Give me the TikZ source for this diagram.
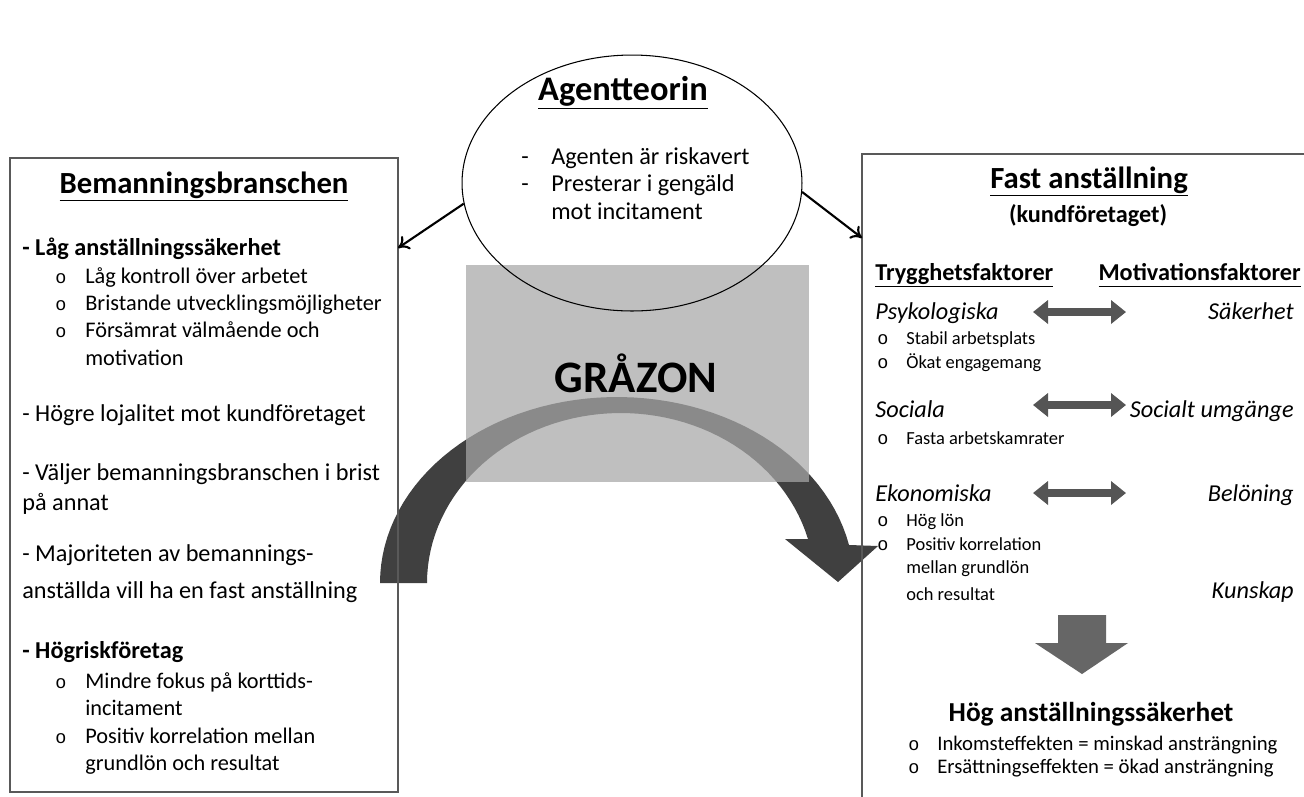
\documentclass[tikz,border=0pt]{standalone}
\usepackage{fontspec}
\setmainfont{Carlito}
\newfontfamily\bulletfont{Liberation Mono}
\usetikzlibrary{shapes.geometric,fit,arrows.meta}

\definecolor{arcgray}{HTML}{404040}
\definecolor{dblgray}{HTML}{555555}
\definecolor{downgray}{HTML}{666666}
\definecolor{zonegray}{RGB}{167,167,167}
\definecolor{framegray}{HTML}{595959}

\newcommand\fsbody{\fontsize{13.8}{16}\selectfont}
\newcommand\fssub{\fontsize{12.7}{15}\selectfont}
\newcommand\fssmall{\fontsize{10.5}{12}\selectfont}
\newcommand\fsitem{\fontsize{11.8}{14}\selectfont}
\newcommand\fshead{\fontsize{17.5}{20}\selectfont}
\newcommand\ul[1]{\underline{#1\vphantom{gy}}}

\tikzset{
  panel/.style={draw=framegray, line width=0.9pt, inner sep=0pt},
  txt/.style={anchor=base west, inner sep=0pt, font=\fsbody},
  blt/.style={anchor=base west, inner sep=0pt, font=\fssmall\bulletfont},
  dblarrow/.style={draw=dblgray, line width=4.5pt,
    {Triangle[length=0.3cm,width=0.46cm]}-{Triangle[length=0.3cm,width=0.46cm]}},
  conn/.style={-{To[length=6pt,width=9pt]}, line width=1.2pt},
}

\begin{document}
\begin{tikzpicture}[x=0.02cm,y=-0.02cm]

  \fill[white] (0,0) rectangle (1304,796);
  \useasboundingbox (0,0) rectangle (1304,796);

  % curved arrow through the grey zone
  \fill[arcgray] plot[domain=180:348.2,samples=60] ({617+237*cos(\x)},{583+186*sin(\x)})
    -- (878,546) -- (838,582) -- (785,539)
    -- plot[domain=345:180,samples=60] ({620.8+193.8*cos(\x)},{583+170*sin(\x)}) -- cycle;
  \fill[zonegray, fill opacity=.72] (466,265) rectangle (809,482);
  \node[font=\fontsize{25.6}{30}\selectfont\bfseries] (zon) at (636,373) {GRÅZON};

  \node[draw, ellipse, line width=0.6pt, inner sep=0pt,
        minimum width=6.8cm, minimum height=5.12cm] (agent) at (632,183) {};

  \node[panel, fit={(10,158) (398,792)}] (bem) {};
  \node[panel, fit={(862,154) (1330,830)}] (fast) {};

  \coordinate (bemin)  at (398,248);
  \coordinate (fastin) at (862,238);
  \draw[conn] (agent.187) -- (bemin);
  \draw[conn] (agent.357) -- (fastin);

  % agent theory
  \node[anchor=base, inner sep=0pt, font=\fontsize{19.6}{22}\selectfont\bfseries] (agt) at (623,100) {\ul{Agentteorin}};
  \begin{scope}[every node/.style={txt}]
    \node (ad1) at (521,164) {-};
    \node (a1)  at (551,164) {Agenten är riskavert};
    \node (ad2) at (521,191) {-};
    \node (a2)  at (551,191) {Presterar i gengäld};
    \node (a3)  at (551,219) {mot incitament};
  \end{scope}

  % staffing industry
  \node[anchor=base, inner sep=0pt, font=\fshead\bfseries] (bemt) at (204,193) {\ul{Bemanningsbranschen}};
  \begin{scope}[every node/.style={txt}]
    \node (l1) at (22,255) {\textbf{- Låg anställningssäkerhet}};
    \node[blt] (lo1) at (55,283) {o};
    \node[font=\fssub] (l2) at (85,283) {Låg kontroll över arbetet};
    \node[blt] (lo2) at (55,310) {o};
    \node[font=\fssub] (l3) at (85,310) {Bristande utvecklingsmöjligheter};
    \node[blt] (lo3) at (55,337) {o};
    \node[font=\fssub] (l4) at (85,337) {Försämrat välmående och};
    \node[font=\fssub] (l5) at (85,365) {motivation};
    \node (l6) at (22,421) {- Högre lojalitet mot kundföretaget};
    \node (l7) at (22,480) {- Väljer bemanningsbranschen i brist};
    \node (l8) at (22,510) {på annat};
    \node (l9) at (22,561) {- Majoriteten av bemannings-};
    \node (l10) at (22,598) {anställda vill ha en fast anställning};
    \node (l11) at (22,658) {\textbf{- Högriskföretag}};
    \node[blt] (lo4) at (55,688) {o};
    \node[font=\fssub] (l12) at (85,688) {Mindre fokus på korttids-};
    \node[font=\fssub] (l13) at (85,715) {incitament};
    \node[blt] (lo5) at (55,743) {o};
    \node[font=\fssub] (l14) at (85,743) {Positiv korrelation mellan};
    \node[font=\fssub] (l15) at (85,770) {grundlön och resultat};
  \end{scope}

  % permanent employment
  \node[anchor=base, inner sep=0pt, font=\fshead\bfseries] (fastt) at (1089,188) {\ul{Fast anställning}};
  \node[anchor=base, inner sep=0pt, font=\fsbody\bfseries] (kund) at (1088,222) {(kundföretaget)};
  \begin{scope}[every node/.style={txt}]
    \node[font=\fsbody\bfseries] (tryg) at (875,280) {\ul{Trygghetsfaktorer}};
    \node[font=\fsbody\bfseries, anchor=base east] (motiv) at (1301,280) {\ul{Motivationsfaktorer}};
    \node[font=\fsbody\itshape] (psy) at (875,319) {Psykologiska};
    \node[font=\fsbody\itshape, anchor=base east] (sak) at (1294,319) {Säkerhet};
    \node[font=\fsbody\itshape] (soc) at (875,417) {Sociala};
    \node[font=\fsbody\itshape, anchor=base east] (umg) at (1294,417) {Socialt umgänge};
    \node[font=\fsbody\itshape] (eko) at (875,501) {Ekonomiska};
    \node[font=\fsbody\itshape, anchor=base east] (bel) at (1294,501) {Belöning};
    \node[font=\fsbody\itshape, anchor=base east] (kun) at (1294,598) {Kunskap};
  \end{scope}
  \begin{scope}[every node/.style={txt, font=\fssmall}]
    \node[blt] (ro1) at (877,344) {o};
    \node (r1) at (906,344) {Stabil arbetsplats};
    \node[blt] (ro2) at (877,368) {o};
    \node (r2) at (906,368) {Ökat engagemang};
    \node[blt] (ro3) at (877,444) {o};
    \node (r3) at (906,444) {Fasta arbetskamrater};
    \node[blt] (ro4) at (877,526) {o};
    \node (r4) at (906,526) {Hög lön};
    \node[blt] (ro5) at (877,550) {o};
    \node (r5) at (906,550) {Positiv korrelation};
    \node (r6) at (906,573) {mellan grundlön};
    \node (r7) at (906,600) {och resultat};
  \end{scope}

  \foreach \y/\n in {312/psy,405/soc,493/eko} {
    \coordinate (\n a) at (1033,\y);
    \coordinate (\n b) at (1126,\y);
    \draw[dblarrow] (\n a) -- (\n b);
  }

  \fill[downgray] (1058,615) -- (1106,615) -- (1106,643) -- (1128,643)
    -- (1082,674) -- (1035,643) -- (1058,643) -- cycle;

  \node[anchor=base, inner sep=0pt, font=\fontsize{15.6}{18}\selectfont\bfseries] (hog) at (1091,721) {Hög anställningssäkerhet};
  \begin{scope}[every node/.style={txt, font=\fsitem}]
    \node[blt] (bo1) at (908,750) {o};
    \node (b1) at (937,750) {Inkomsteffekten = minskad ansträngning};
    \node[blt] (bo2) at (908,773) {o};
    \node (b2) at (937,773) {Ersättningseffekten = ökad ansträngning};
  \end{scope}

\end{tikzpicture}
\end{document}
